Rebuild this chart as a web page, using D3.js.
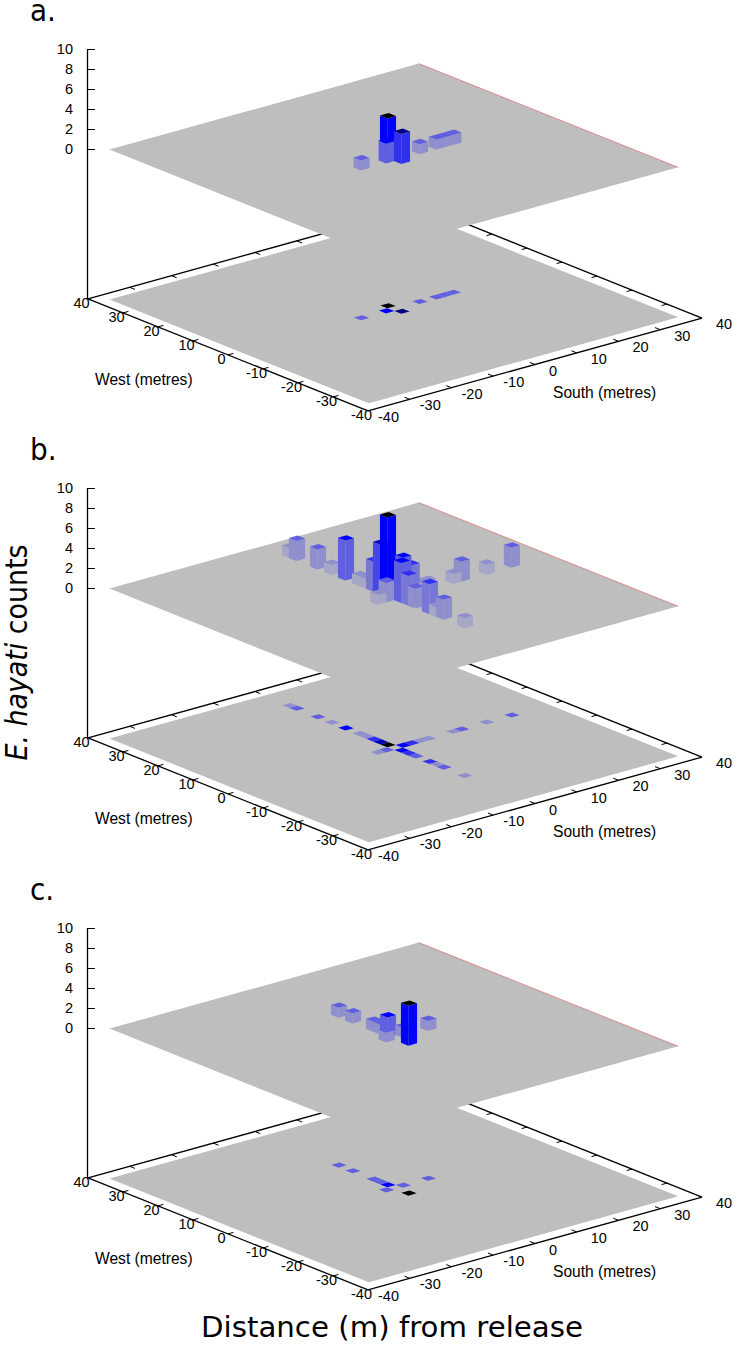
<!DOCTYPE html>
<html>
<head>
<meta charset="utf-8">
<style>html,body{margin:0;padding:0;background:#fff}svg{display:block}</style>
<script src="https://cdn.jsdelivr.net/npm/d3@7/dist/d3.min.js"></script>
</head>
<body>
<svg id="chart" width="737" height="1346"></svg>
<script>
// Data: trap cells (west m, south m) and counts
const panelLabels = ["a.", "b.", "c."];
const aWest  = [0, 2, 0, -2, 0, 0, 0, 0];
const aSouth = [-8, 0, -2, 0, 6, 10, 12, 14];
const aCount = [1, 4, 2, 3, 1, 1, 1, 1];
const bWest  = [30, 28, 22, 18, 14, 10, 8, 6, 4, 2, 0, 0, 0, 0, 0, 0, 0, 0, 0, 0, -2, -4, -6, -10, -12, -14, -20];
const bSouth = [0, 0, 0, 0, 0, 0, 0, 0, 0, 0, -4, -2, 2, 4, 6, 8, 14, 16, 22, 28, 0, 0, 0, 0, 0, 0, 0];
const bCount = [1, 2, 2, 1, 4, 1, 1, 3, 5, 8, 1, 2, 4, 3, 1, 1, 1, 2, 1, 2, 4, 3, 2, 3, 1, 2, 1];
const cWest  = [16, 12, 6, 4, 2, 0, 0, -4, 0];
const cSouth = [0, 0, 0, 0, 0, 2, -2, 0, 8];
const cCount = [1, 1, 1, 1, 2, 1, 1, 4, 1];
const panelWest = [aWest, bWest, cWest];
const panelSouth = [aSouth, bSouth, cSouth];
const panelCount = [aCount, bCount, cCount];
const groundTicks = [40, 30, 20, 10, 0, -10, -20, -30, -40];
const zTicks = [0, 2, 4, 6, 8, 10];
const xLabelWest = "West (metres)";
const xLabelSouth = "South (metres)";
const yTitle = "counts";
const yTitleItalic = "E. hayati";
const xTitle = "Distance (m) from release";

const panelTop = [0, 439, 879];
const planeHi = 37.2, planeLo = -36.9;
const cellHalf = 1, barHalf = 1.05;

// Projection of the ground axes, as offsets from the plot centre
const wx = d3.scaleLinear().domain([40, -40]).range([-140, 140]);
const wy = d3.scaleLinear().domain([40, -40]).range([-56, 56]);
const sx = d3.scaleLinear().domain([-40, 40]).range([-167, 167]);
const sy = d3.scaleLinear().domain([-40, 40]).range([46.4, -46.4]);
const zs = d3.scaleLinear().domain([0, 10]).range([0, -100]);
const color = d3.scaleLinear().domain([0, 0.5, 1]).range(["#bebebe", "#0000ff", "#000000"]);

const svg = d3.select("#chart");
svg.append("rect").attr("width", 737).attr("height", 1346).attr("fill", "#fff");

const CX = 395;
const TOPY = 158.5, BOTY = 308.5;
const tickFont = "'Liberation Sans', Arial, sans-serif";
const bigFont = "'DejaVu Sans', sans-serif";

panelTop.forEach((off, pi) => {
  const g = svg.append("g").attr("transform", `translate(0,${off})`);
  const P = (w, s, base, z = 0) => [CX + wx(w) + sx(s), base + wy(w) + sy(s) + zs(z)];
  const poly = (parent, pts, fill) => parent.append("polygon")
    .attr("points", pts.map(p => p.join(",")).join(" ")).attr("fill", fill);
  const line = (a, b, sw = 1.3, col = "#000") => g.append("line")
    .attr("x1", a[0]).attr("y1", a[1]).attr("x2", b[0]).attr("y2", b[1])
    .attr("stroke", col).attr("stroke-width", sw);

  const values = panelCount[pi].map((c, i) => ({ w: panelWest[pi][i], s: panelSouth[pi][i], c }))
    .sort((a, b) => (b.w + b.s) - (a.w + a.s));
  const maxC = d3.max(values, d => d.c);

  // back axes
  line(P(40, -40, BOTY), P(40, 40, BOTY));
  line(P(40, 40, BOTY), P(-40, 40, BOTY));
  groundTicks.slice(1, -1).forEach(t => {
    line(P(40, t, BOTY), P(38.5, t, BOTY), 1);
    line(P(t, 40, BOTY), P(t, 38.7, BOTY), 1);
  });

  // bottom plane and its heat map
  const hi = planeHi, lo = planeLo;
  poly(g, [P(hi, -hi, BOTY), P(hi, -lo, BOTY), P(lo, -lo, BOTY), P(lo, -hi, BOTY)], "#bebebe");
  values.forEach(d => {
    const h = cellHalf;
    poly(g, [P(d.w + h, d.s - h, BOTY), P(d.w + h, d.s + h, BOTY), P(d.w - h, d.s + h, BOTY), P(d.w - h, d.s - h, BOTY)],
      color(d.c / maxC));
  });

  // top plane
  poly(g, [P(hi, -hi, TOPY), P(hi, -lo, TOPY), P(lo, -lo, TOPY), P(lo, -hi, TOPY)], "#bebebe");
  line(P(hi, -lo, TOPY), P(lo, -lo, TOPY), 0.7, "#e06a6a");

  // bars
  values.forEach(d => {
    const h = barHalf;
    const side = color(d.c / (2 * maxC));
    poly(g, [P(d.w + h, d.s - h, TOPY), P(d.w - h, d.s - h, TOPY), P(d.w - h, d.s - h, TOPY, d.c), P(d.w + h, d.s - h, TOPY, d.c)], side);
    poly(g, [P(d.w - h, d.s - h, TOPY), P(d.w - h, d.s + h, TOPY), P(d.w - h, d.s + h, TOPY, d.c), P(d.w - h, d.s - h, TOPY, d.c)], side);
    poly(g, [P(d.w + h, d.s - h, TOPY, d.c), P(d.w + h, d.s + h, TOPY, d.c), P(d.w - h, d.s + h, TOPY, d.c), P(d.w - h, d.s - h, TOPY, d.c)],
      color(d.c / maxC));
  });

  // front axes
  line(P(40, -40, BOTY), P(-40, -40, BOTY));
  line(P(-40, -40, BOTY), P(-40, 40, BOTY));
  groundTicks.slice(1, -1).forEach(t => {
    line(P(t, -40, BOTY), P(t, -38.7, BOTY), 1);
    line(P(-40, t, BOTY), P(-38.5, t, BOTY), 1);
  });

  const txt = (x, y, s, anchor, size = 14.5) => g.append("text").attr("x", x).attr("y", y).text(s)
    .attr("font-family", tickFont).attr("font-size", size).attr("text-anchor", anchor).attr("fill", "#000");

  groundTicks.forEach(t => {
    const a = P(t, -40, BOTY);
    txt(a[0] - 6.5, a[1] + 9.5, t, "middle");
    const b = P(-40, t, BOTY);
    txt(b[0] + (t < 0 ? 10 : 14), b[1] + 11, t, "start");
  });

  // vertical axis
  const zBase = P(40, -40, BOTY);
  const zx = zBase[0] - 0.5;
  const yZero = 149.5;
  line([zx, zBase[1]], [zx, yZero + zs(10) - 0.5]);
  zTicks.forEach(t => {
    const y = yZero + zs(t);
    line([zx, y], [zx + 7.5, y], 1);
    txt(73, y + 4.5, t, "end");
  });

  txt(95, 385, xLabelWest, "start", 15.6);
  txt(553, 398, xLabelSouth, "start", 15.6);

  g.append("text").attr("transform", "translate(30,21) scale(0.93,1)").text(panelLabels[pi])
    .attr("font-family", bigFont).attr("font-size", 30).attr("fill", "#000");
});

// shared titles
const yT = svg.append("text").attr("transform", "translate(26.7,652.5) rotate(-90) scale(0.91,1)")
  .attr("text-anchor", "middle").attr("font-family", bigFont).attr("font-size", 29.5).attr("fill", "#000");
yT.append("tspan").attr("font-style", "italic").text(yTitleItalic);
yT.append("tspan").text(" " + yTitle);
svg.append("text").attr("x", 201).attr("y", 1337).attr("textLength", 382).attr("lengthAdjust", "spacingAndGlyphs")
  .attr("font-family", bigFont).attr("font-size", 28.5).attr("fill", "#000").text(xTitle);
</script>
</body>
</html>
